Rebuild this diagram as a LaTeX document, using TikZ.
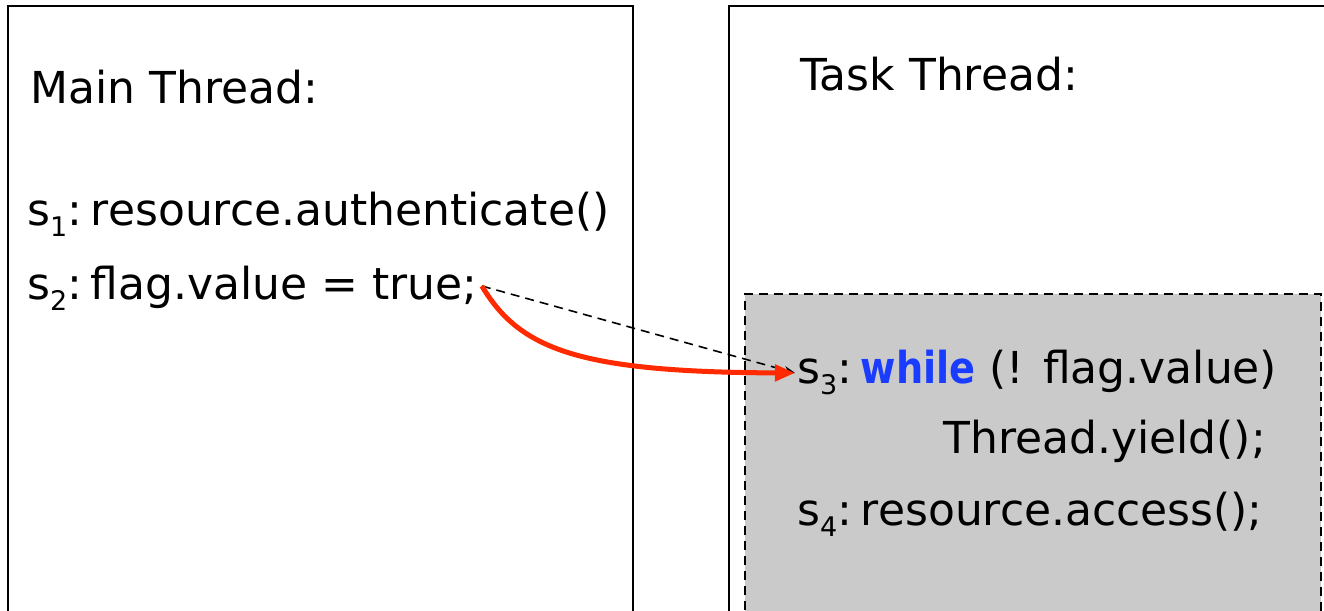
\documentclass[tikz,border=0pt]{standalone}
\usepackage{fontspec}
\setmainfont{DejaVu Sans}
\usetikzlibrary{arrows.meta}

\definecolor{kwblue}{HTML}{1A3CFF}
\definecolor{flowred}{HTML}{FF2A00}
\definecolor{regiongray}{HTML}{CACACA}

% statement label: s with a lowered index, then the colon
\newcommand{\stm}[1]{s\raisebox{-0.27em}{\fontsize{27}{30}\selectfont #1}:\hspace{0.2em}}
% keyword in bold, set a little narrower
\newcommand{\kw}[1]{\textcolor{kwblue}{\scalebox{0.87}[1]{\bfseries #1}}}

\tikzset{
  threadbox/.style={draw=black, line width=1.7pt},
  region/.style={fill=regiongray, draw=black, line width=1.7pt, dash pattern=on 9pt off 6pt},
  code/.style={anchor=base west, inner sep=0pt, font=\fontsize{44}{50}\selectfont},
  coderight/.style={code, anchor=base east},
  flow/.style={draw=flowred, line width=5pt, -{Triangle[length=20pt,width=16pt]}},
  order/.style={draw=black, line width=1.6pt, dash pattern=on 9pt off 6pt, -{Stealth[length=11pt,width=8pt]}},
}

\begin{document}
\begin{tikzpicture}[x=1pt,y=-1pt]
  \useasboundingbox (0,0) rectangle (1324,610);
  \clip (0,0) rectangle (1324,610);

  % thread frames (open at the bottom of the page)
  \draw[threadbox] (8,640) -- (8,6) -- (633,6) -- (633,640);
  \draw[threadbox] (729,640) -- (729,6) -- (1340,6);

  % guarded region in the task thread
  \draw[region] (745,640) -- (745,294) -- (1321,294) -- (1321,640);

  % main thread
  \node[code] (mainhead) at (30,103) {Main Thread:};
  \node[code] (s1) at (27,225) {\stm{1}resource.authenticate()};
  \node[code] (s2) at (27,299) {\stm{2}flag.value = true;};

  % task thread
  \node[code] (taskhead) at (800,90) {Task Thread:};
  \node[code] (s3) at (797,383) {\stm{3}\kw{while} (! flag.value)};
  \node[coderight] (yield) at (1266,453) {Thread.yield();};
  \node[code] (s4) at (797,525) {\stm{4}resource.access();};

  % ordering edges
  \coordinate (from) at ([xshift=4pt,yshift=13pt]s2.base east);
  \coordinate (to) at ([xshift=-2pt,yshift=10pt]s3.base west);
  \draw[order] (from) -- (to);
  \draw[flow] (from) .. controls (520,350) and (580,372) .. (to);
\end{tikzpicture}
\end{document}
